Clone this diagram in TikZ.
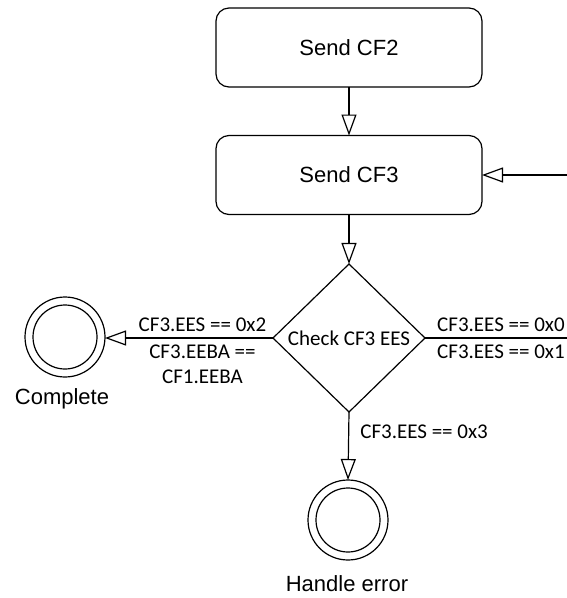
\documentclass[tikz,border=0pt]{standalone}
\usepackage{fontspec}
\setmainfont{Liberation Sans}
\newfontfamily\lblfont{Carlito}
\usetikzlibrary{arrows.meta,shapes.geometric}
\tikzset{
  lw/.style={line width=1.2pt},
  box/.style={draw,lw,rounded corners=13pt,minimum width=266pt,minimum height=79pt,inner sep=0pt,outer sep=0pt,font=\fontsize{22}{26}\selectfont},
  decision/.style={draw,lw,diamond,minimum width=152pt,minimum height=148pt,inner sep=0pt,outer sep=0pt,font=\lblfont\fontsize{21}{25}\selectfont},
  endstate/.style={draw,lw,circle,minimum size=80pt,inner sep=0pt,outer sep=0pt},
  caption/.style={font=\fontsize{22}{26}\selectfont,inner sep=0pt},
  edgelbl/.style={font=\lblfont\fontsize{21}{25}\selectfont,inner sep=0pt,align=center},
  flow/.style={lw,-{Triangle[open,length=21pt,width=15pt,line width=1.2pt]}},
}
\begin{document}
\begin{tikzpicture}[x=1pt,y=-1pt]
\useasboundingbox (0,0) rectangle (567,598);
\node[box] (cf2) at (349,47.5) {Send CF2};
\node[box] (cf3) at (349,175) {Send CF3};
\node[decision] (chk) at (349,338) {Check CF3 EES};
\node[endstate] (done) at (65,337) {};
\draw[lw] (done.center) circle[radius=32pt];
\node[caption] (donelbl) at (62,399) {Complete};
\node[endstate] (err) at (348,520) {};
\draw[lw] (err.center) circle[radius=32pt];
\node[caption] (errlbl) at (347,584) {Handle error};
\coordinate (rin) at (567,175);
\coordinate (rout) at (567,338);
\draw[flow] (cf2) -- (cf3);
\draw[flow] (cf3) -- (chk);
\draw[flow] (rin) -- (cf3.east);
\draw[flow] (chk.west) -- (done.east |- chk.west)
  node[edgelbl,pos=0.42,above=6pt] (l2) {CF3.EES == 0x2}
  node[edgelbl,pos=0.42,below=6pt] (l2b) {CF3.EEBA ==\\CF1.EEBA};
\draw[lw] (chk.east) -- (rout)
  node[edgelbl,pos=0.535,above=6pt] (l0) {CF3.EES == 0x0}
  node[edgelbl,pos=0.535,below=6pt] (l1) {CF3.EES == 0x1};
\draw[flow] (chk.south) -- (err.north)
  node[edgelbl,pos=0.29,anchor=west,xshift=11pt] (l3) {CF3.EES == 0x3};
\end{tikzpicture}
\end{document}
